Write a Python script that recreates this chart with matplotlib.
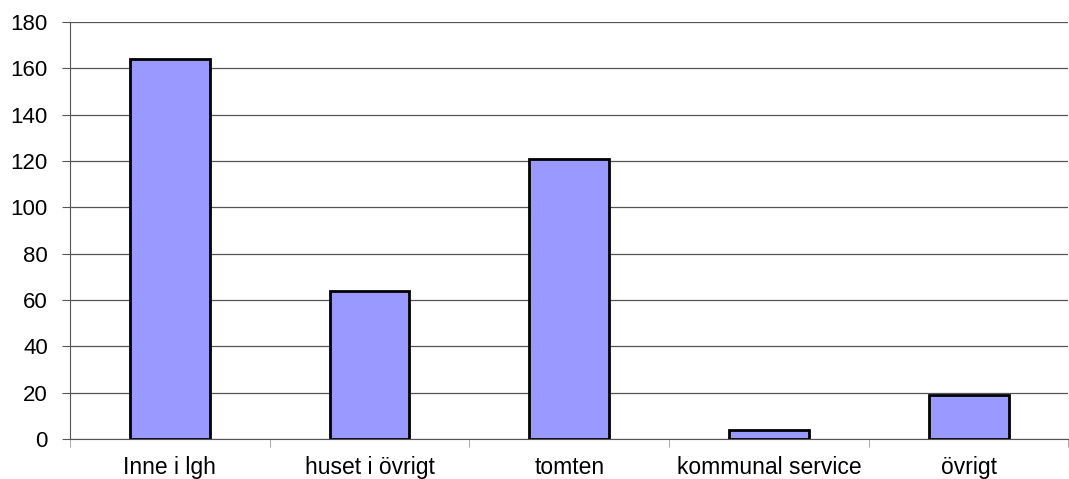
import numpy as np
import matplotlib.pyplot as plt

plt.rcParams['font.family'] = ['Liberation Sans', 'DejaVu Sans']

categories = ['Inne i lgh', 'huset i övrigt', 'tomten', 'kommunal service', 'övrigt']
values = [164, 64, 121, 4, 19]
yticks = [0, 20, 40, 60, 80, 100, 120, 140, 160, 180]

fig = plt.figure(figsize=(10.69, 4.79), dpi=100)
ax = fig.add_axes([0.0655, 0.0835, 0.934, 0.8705])

x = np.arange(len(categories))
ax.bar(x, values, width=0.4, color='#9999FF', edgecolor='black', linewidth=2, zorder=3)

ax.set_xlim(-0.5, len(categories) - 0.5)
ax.set_ylim(0, 180)
ax.set_yticks(yticks)
ax.yaxis.grid(True, color='#555555', linewidth=0.9, zorder=0)

# category labels centred, tick marks between categories
ax.set_xticks(x)
ax.set_xticklabels(categories, fontsize=16.5)
ax.set_xticks(np.arange(len(categories) + 1) - 0.5, minor=True)
ax.tick_params(axis='x', which='major', length=0, pad=12)
ax.tick_params(axis='x', which='minor', length=6, color='#999999', direction='out')
ax.tick_params(axis='y', labelsize=16, length=6, color='#555555', direction='out', pad=10)

for s in ['top', 'right']:
    ax.spines[s].set_visible(False)
ax.spines['left'].set_color('#555555')
ax.spines['bottom'].set_color('#555555')

fig.savefig('out.png', dpi=100)
